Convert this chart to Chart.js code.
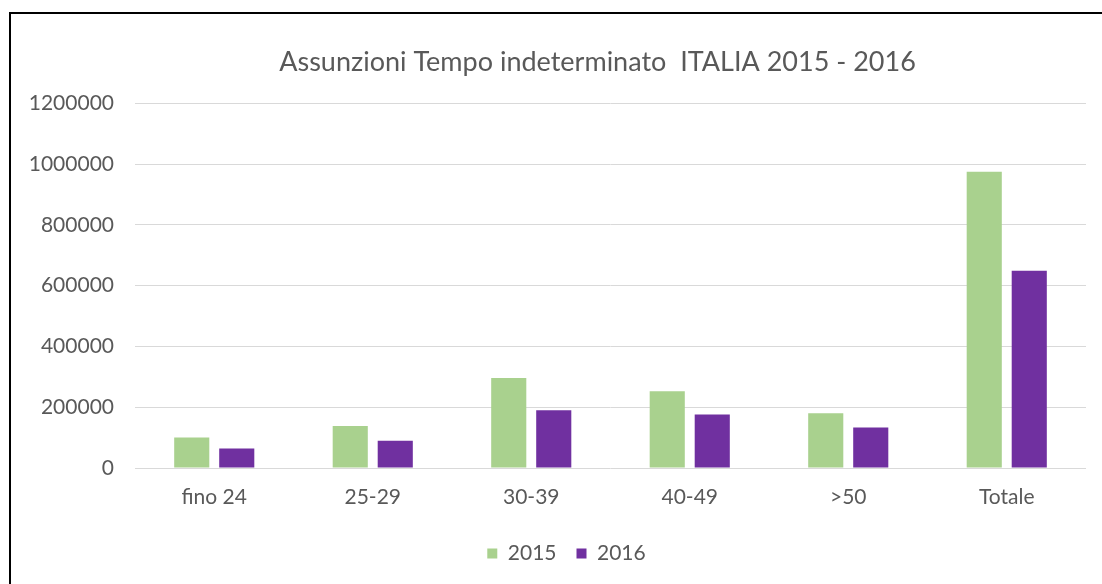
<!DOCTYPE html>
<html>
<head>
<meta charset="utf-8">
<script src="https://cdn.jsdelivr.net/npm/chart.js@4/dist/chart.umd.min.js"></script>
<style>
  html, body { margin: 0; padding: 0; background: #fff; }
  #cornice {
    position: absolute; left: 9px; top: 12px; width: 1200px; height: 700px;
    border-left: 2px solid #000; border-top: 2px solid #000;
  }
  #box { position: absolute; left: 0; top: 0; width: 1102px; height: 584px; }
</style>
</head>
<body>
<div id="cornice"></div>
<div id="box"><canvas id="grafico"></canvas></div>
<script>
// dati
const categorie = ['fino 24', '25-29', '30-39', '40-49', '>50', 'Totale'];
const anni = ['2015', '2016'];
const valori2015 = [100000, 138000, 296000, 253000, 180000, 975000];
const valori2016 = [64000, 90000, 190000, 176000, 133000, 649000];
const etichetteY = ['0', '200000', '400000', '600000', '800000', '1000000', '1200000'];

const grigio = '#595959';
const font = 'Lato';

// titolo e legenda non sono centrati sull'area del grafico nell'originale
const sposta = {
  id: 'sposta',
  afterLayout(chart) {
    const area = chart.chartArea;
    const centro = (chart.legend.left + chart.legend.right) / 2;
    const dx = (area.left + area.right) / 2 - centro;
    if (chart.titleBlock) {
      chart.titleBlock.left += dx - 13;
      chart.titleBlock.right += dx - 13;
    }
    chart.legend.left += dx - 44;
    chart.legend.right += dx - 44;
  }
};

new Chart(document.getElementById('grafico'), {
  type: 'bar',
  data: {
    labels: categorie,
    datasets: [
      { label: anni[0], data: valori2015, backgroundColor: '#A9D18E' },
      { label: anni[1], data: valori2016, backgroundColor: '#7030A0' }
    ]
  },
  options: {
    responsive: true,
    maintainAspectRatio: false,
    animation: false,
    layout: { padding: { left: 10, right: 16, top: 10, bottom: 10 } },
    plugins: {
      title: {
        display: true,
        text: 'Assunzioni Tempo indeterminato  ITALIA 2015 - 2016',
        color: grigio,
        font: { family: font, size: 27, weight: 'normal' },
        padding: { top: 36, bottom: 25 }
      },
      legend: {
        position: 'bottom',
        labels: {
          boxWidth: 10, boxHeight: 10, padding: 20,
          color: grigio,
          font: { family: font, size: 21 }
        }
      },
      tooltip: { enabled: false }
    },
    datasets: {
      bar: { categoryPercentage: 0.568, barPercentage: 0.78 }
    },
    scales: {
      x: {
        grid: { display: false, drawTicks: false },
        border: { display: false },
        ticks: { color: grigio, padding: 17, font: { family: font, size: 21 } },
        afterFit(scale) { scale.height = 55; }
      },
      y: {
        min: 0, max: 1200000,
        grid: { color: '#d9d9d9', lineWidth: 1, drawTicks: false },
        border: { display: false },
        ticks: {
          stepSize: 200000,
          color: grigio,
          padding: 21,
          font: { family: font, size: 21 },
          callback: (v, i) => etichetteY[i]
        },
        afterFit(scale) { scale.width = 125; }
      }
    }
  },
  plugins: [sposta]
});
</script>
</body>
</html>
